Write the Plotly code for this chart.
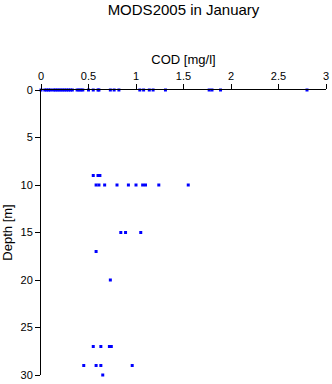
import plotly.graph_objects as go

# COD observations (mg/l) grouped by sampling depth (m)
cod_0m = [0.00, 0.04, 0.06, 0.08, 0.10, 0.13, 0.15, 0.17, 0.19, 0.21, 0.23, 0.25,
          0.27, 0.29, 0.31, 0.33, 0.38, 0.40, 0.42, 0.44, 0.50, 0.55, 0.60, 0.61,
          0.73, 0.77, 0.82, 1.04, 1.08, 1.14, 1.18, 1.31, 1.77, 1.80, 1.89, 2.80]
cod_9m = [0.55, 0.60, 0.62]
cod_10m = [0.58, 0.61, 0.67, 0.80, 0.92, 1.00, 1.07, 1.10, 1.24, 1.55]
cod_15m = [0.84, 0.89, 1.05]
cod_17m = [0.58]
cod_20m = [0.73]
cod_27m = [0.55, 0.63, 0.72, 0.74]
cod_29m = [0.45, 0.58, 0.63, 0.96]
cod_30m = [0.65]

groups = [(0, cod_0m), (9, cod_9m), (10, cod_10m), (15, cod_15m), (17, cod_17m),
          (20, cod_20m), (27, cod_27m), (29, cod_29m), (30, cod_30m)]

xs, ys = [], []
for depth, vals in groups:
    xs.extend(vals)
    ys.extend([depth] * len(vals))

x_ticks = [0, 0.5, 1, 1.5, 2, 2.5, 3]
x_tick_labels = ["0", "0.5", "1", "1.5", "2", "2.5", "3"]
y_ticks = [0, 5, 10, 15, 20, 25, 30]

fig = go.Figure(go.Scatter(
    x=xs, y=ys, mode="markers",
    marker=dict(symbol="square", size=3, color="#0000ff", line=dict(width=0)),
    cliponaxis=False,
))

fig.update_layout(
    width=332, height=384,
    margin=dict(l=41, r=6, t=90, b=9),
    paper_bgcolor="white", plot_bgcolor="white",
    font=dict(family="Liberation Sans, Arial, sans-serif", size=11, color="black"),
    showlegend=False,
    title=dict(text="MODS2005 in January", x=183.5 / 332, xanchor="center",
               y=1 - 10 / 384, yanchor="middle", font=dict(size=15)),
    xaxis=dict(side="top", range=[0, 3], tickvals=x_ticks, ticktext=x_tick_labels,
               ticks="outside", ticklen=5, tickcolor="black", tickwidth=1,
               showline=True, linecolor="black", linewidth=1, showgrid=False,
               zeroline=False, automargin=False,
               title=dict(text="COD [mg/l]", standoff=2)),
    yaxis=dict(range=[30, 0], tickvals=y_ticks, ticks="outside", ticklen=5,
               tickcolor="black", tickwidth=1, showline=True, linecolor="black",
               linewidth=1, showgrid=False, zeroline=False, automargin=False,
               title=dict(text="Depth [m]", standoff=6)),
)

fig.write_html("out.html")
